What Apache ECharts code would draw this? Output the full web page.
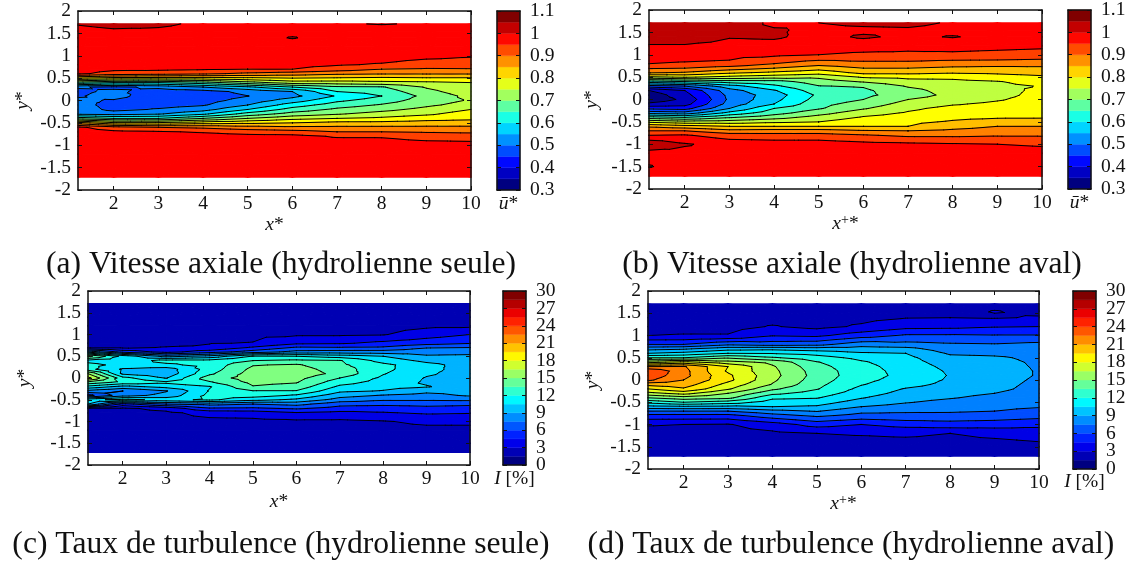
<!DOCTYPE html>
<html><head><meta charset="utf-8">
<style>html,body{margin:0;padding:0;background:#fff}#c{width:1133px;height:563px}</style>
<script src="https://cdn.jsdelivr.net/npm/echarts@6/dist/echarts.min.js"></script>
</head><body><div id="c"></div>
<script>
// Measurement stations along the wake, and transverse stations (top to bottom)
const xStations = [1.2, 2, 3, 4, 5, 6, 7, 8, 9, 10];
const yStations = [1.71, 1.55, 1.4, 1.2, 1, 0.8, 0.7, 0.6, 0.5, 0.4, 0.3, 0.2, 0.1, 0, -0.1, -0.2, -0.3, -0.4, -0.5, -0.6, -0.7, -0.8, -1, -1.2, -1.5, -1.71];
const xTicks = [2, 3, 4, 5, 6, 7, 8, 9, 10];
const uLevels = [0.3, 0.35, 0.4, 0.45, 0.5, 0.55, 0.6, 0.65, 0.7, 0.75, 0.8, 0.85, 0.9, 0.95, 1, 1.05, 1.1];
const iLevels = [0, 1.5, 3, 4.5, 6, 7.5, 9, 10.5, 12, 13.5, 15, 16.5, 18, 19.5, 21, 22.5, 24, 25.5, 27, 28.5, 30];
const uBarTicks = [0.3, 0.4, 0.5, 0.6, 0.7, 0.8, 0.9, 1, 1.1];
const iBarTicksEven = [0, 6, 12, 18, 24, 30];
const iBarTicksOdd = [3, 9, 15, 21, 27];

// (a) axial velocity, turbine alone: one list per x station
const uA12 = [1.002,.99,.98,.98,.98,.98,.97,.96,.80,.63,.455,.44,.445,.46,.47,.48,.49,.63,.82,.96,.97,.98,.98,.98,.98,.98];
const uA2 = [1.01,.995,.985,.98,.98,.97,.96,.93,.78,.60,.44,.46,.47,.445,.43,.435,.48,.60,.76,.92,.96,.98,.98,.98,.98,.98];
const uA3 = [1.005,.995,.985,.98,.98,.97,.96,.92,.78,.60,.46,.43,.415,.415,.43,.455,.495,.60,.76,.90,.955,.975,.98,.98,.98,.98];
const uA4 = [.995,.99,.985,.98,.98,.97,.955,.91,.78,.63,.50,.43,.42,.43,.445,.48,.54,.65,.78,.89,.945,.97,.98,.98,.98,.98];
const uA5 = [.995,.99,.985,.98,.975,.965,.95,.89,.79,.68,.54,.465,.449,.47,.50,.55,.62,.70,.79,.87,.93,.965,.98,.98,.98,.98];
const uA6 = [.998,.99,1.002,.98,.975,.965,.95,.875,.80,.725,.60,.50,.485,.525,.575,.62,.67,.735,.80,.86,.92,.965,.98,.98,.98,.98];
const uA7 = [.998,.99,.985,.98,.975,.955,.925,.86,.795,.725,.64,.60,.555,.59,.625,.66,.695,.75,.815,.86,.90,.945,.98,.98,.98,.98];
const uA8 = [1.001,.99,.985,.98,.975,.945,.90,.855,.79,.735,.645,.62,.60,.625,.655,.685,.72,.76,.815,.86,.90,.945,.975,.98,.98,.98];
const uA9 = [.998,.99,.985,.98,.965,.925,.895,.855,.795,.74,.705,.685,.665,.675,.69,.715,.74,.78,.82,.86,.895,.93,.97,.98,.98,.98];
const uA10 = [.998,.99,.985,.975,.955,.925,.897,.855,.795,.75,.74,.73,.715,.705,.72,.75,.775,.79,.82,.86,.89,.93,.965,.98,.98,.98];

// (b) axial velocity, downstream turbine
const uB12 = [1.03,1.03,1.03,.995,.97,.95,.905,.855,.74,.58,.43,.30,.27,.27,.31,.39,.48,.62,.74,.84,.90,.95,1.04,.98,1.003,.97];
const uB2 = [1.03,1.03,1.03,.995,.97,.945,.90,.845,.755,.60,.45,.35,.33,.31,.33,.38,.47,.60,.72,.82,.90,.955,1.005,.985,.98,.97];
const uB3 = [1.03,1.015,1.003,.985,.965,.94,.875,.81,.735,.625,.53,.48,.465,.46,.47,.50,.565,.645,.725,.80,.865,.925,.98,.985,.985,.975];
const uB4 = [.99,1.005,1.006,.985,.96,.90,.85,.79,.72,.63,.59,.545,.525,.535,.55,.60,.63,.68,.74,.80,.87,.92,.975,.985,.985,.975];
const uB5 = [1.0,.99,.985,.975,.95,.87,.82,.77,.71,.675,.648,.63,.61,.62,.635,.645,.68,.72,.75,.80,.87,.92,.975,.985,.985,.975];
const uB6 = [1.01,.99,1.006,.975,.94,.885,.85,.815,.755,.705,.655,.64,.638,.65,.67,.695,.73,.755,.78,.80,.855,.905,.965,.985,.985,.975];
const uB7 = [1.012,.993,.99,.965,.94,.885,.85,.815,.76,.735,.705,.685,.675,.70,.72,.74,.755,.77,.79,.80,.85,.89,.96,.985,.985,.975];
const uB8 = [.995,.985,1.003,.97,.94,.875,.84,.805,.76,.74,.725,.72,.715,.725,.745,.765,.775,.79,.805,.83,.86,.89,.955,.985,.985,.975];
const uB9 = [.995,.985,.985,.965,.935,.875,.835,.81,.775,.748,.742,.735,.735,.745,.76,.77,.785,.795,.82,.85,.87,.895,.95,.985,.985,.975];
const uB10 = [.995,.985,.985,.96,.93,.87,.84,.82,.79,.765,.752,.76,.765,.77,.775,.78,.79,.795,.825,.85,.87,.895,.94,.98,.985,.975];

// (c) turbulence rate, turbine alone
const iC12 = [1,1,1,1,1,1,1.2,7,14,10,11,11,15,17,13,10,7,4,10,9,1.2,1,1,1,1,1];
const iC2 = [1,1,1,1,1,1,1.2,4,10,9.5,10,8.8,8.7,11,11.5,8.5,6,6.9,11,4,1.2,1,1,1,1,1];
const iC3 = [1,1,1,1,1,1,1.6,2.5,7,11,10.2,8.2,8,8.9,10.8,9.5,7.4,8,10,6,2,1.2,1,1,1,1];
const iC4 = [1,1,1,1,1,1.45,1.7,3.8,8,11,11,11.2,11.7,12.8,11.8,10.4,10.6,10.9,10.8,6.5,4.3,2,1.1,1,1,1];
const iC5 = [1,1,1,1,1.2,1.55,3.2,5.2,10.6,12,13.4,13.9,14.2,14.2,13.9,13.4,11.9,11.2,9.5,6,4.2,2.2,1.1,1,1,1];
const iC6 = [1,1,1,1.1,1.3,2.7,4.7,6.5,10.5,12.3,13.7,14.2,14.5,14,13.6,12.9,11.9,10.3,8.7,6.5,4.7,2.9,1.2,1,1,1];
const iC7 = [1,1,1,1,1.3,2.8,4.6,6.7,9.8,12.1,12.3,12.7,13,12,11.1,10.2,9.3,8.1,6.9,5,3.9,2.6,1.2,1,1,1];
const iC8 = [1,1,1,1,1.4,3.4,4.7,6.7,9,9.9,10.9,10.9,10.6,10.2,9.9,9.5,8.9,7.4,6.2,4.9,3.6,2.9,1.4,1,1,1];
const iC9 = [1,1,1,1.2,2.3,3.9,5.9,6.9,7.7,8.6,9.5,9.4,9.2,8.9,8.8,9.1,7.9,7,6.2,5,4,3.2,1.8,1.1,1,1];
const iC10 = [1,1,1,1.2,3,4.4,6,7,7.8,8.1,8.3,8.4,8.4,8.4,8.3,8.2,8,7.7,6.3,4.8,3.9,3.1,1.8,1.1,1,1];

// (d) turbulence rate, downstream turbine
const iD12 = [1,1,1,1,1.5,4.5,7,9,12,16,21,24,23.5,22.8,20,18,16,13.5,11,8.5,6,4,1.6,1,1,.9];
const iD2 = [1,1,1,1,1.6,4.5,7.3,9.5,12,17,21.2,21.5,21.5,21,20.3,19.3,17,14.3,12,8.7,6,4,1.5,1,1,.9];
const iD3 = [1,1,1,1,1.6,5.7,8.4,10.5,13.3,15.6,18,17.8,18.3,18.4,17.5,16.7,15,13.9,11.3,8.6,6,4,1.4,1,1,.9];
const iD4 = [1,1,1,1.6,2.9,5.3,8.6,10.4,12.2,14.6,15.2,15.4,15.5,15.3,14.9,13.8,12.4,10.8,9.8,9,7,5.4,2.3,1.2,1,.9];
const iD5 = [1,1,1,1.1,2.7,5.5,8.2,10,11.1,12.1,12.5,12.8,12.9,12.7,12.4,12.1,11.3,10.6,9.7,8.8,7.6,6.3,3.6,1.5,1,.9];
const iD6 = [1,1,1.1,1.7,3.8,6.9,8.1,9.2,10.1,10.7,11,11.1,11.1,10.9,10.6,10.1,9.7,9.1,8.3,7.5,6.4,5.5,3,1.6,1,.9];
const iD7 = [1,1,1.45,2.5,4.7,6.5,8,9,9.4,9.6,9.8,10,10.1,9.9,9.5,8.9,8.5,8,7.6,7,6.2,5.6,3.6,1.7,1,.9];
const iD8 = [1,1,1.5,2.6,4.7,6.2,6.7,7.3,7.9,8.3,8.6,8.8,8.9,8.8,8.6,8.3,7.9,7.6,7.1,6.6,6.2,5.5,3.9,1.5,1,.9];
const iD9 = [1,1.55,1.4,2.9,4.6,6.1,6.6,7.2,7.7,7.9,8,8.1,8.1,8,7.9,7.8,7.5,7.1,6.7,6.3,6,5.3,3.8,1.8,1,.9];
const iD10 = [1,1.2,1.6,3,4.6,6.4,6.7,7,7.2,7.3,7.35,7.4,7.4,7.3,7.2,7.1,6.9,6.7,6.4,6.1,5.6,5,3.5,2,1.2,.9];

const FONT = 'Liberation Serif';
const SIZE = 19.5;
const CAP = 31.6;

function jet(t) {
  const seg = (p, q, a, b) => a + (b - a) * (t - p) / (q - p);
  let r, g, b;
  if (t < .125) { r = 0; g = 0; b = seg(0, .125, .5, 1); }
  else if (t < .375) { r = 0; g = seg(.125, .375, 0, 1); b = 1; }
  else if (t < .625) { r = seg(.375, .625, 0, 1); g = 1; b = seg(.375, .625, 1, 0); }
  else if (t < .875) { r = 1; g = seg(.625, .875, 1, 0); b = 0; }
  else { r = seg(.875, 1, 1, .5); g = 0; b = 0; }
  return 'rgb(' + Math.round(r * 255) + ',' + Math.round(g * 255) + ',' + Math.round(b * 255) + ')';
}

const rich = {
  i: { fontFamily: FONT, fontStyle: 'italic', fontSize: SIZE, color: '#111' },
  n: { fontFamily: FONT, fontSize: SIZE, color: '#111' },
  s: { fontFamily: FONT, fontSize: 14, color: '#111', verticalAlign: 'top', lineHeight: 20 }
};

const panels = [
  { cols: [uA12,uA2,uA3,uA4,uA5,uA6,uA7,uA8,uA9,uA10], levels: uLevels, plot: [78,11,393,179], bar: [497,11,23,179],
    xName: '{i|x}{n|*}', barName: '{i|ū}{n|*}', barInt: .1, barTicks: [uBarTicks], xGap: 24, yGap: 45, barGap: 4, cap: '(a) Vitesse axiale (hydrolienne seule)', capX: 276, capY: 244 },
  { cols: [uB12,uB2,uB3,uB4,uB5,uB6,uB7,uB8,uB9,uB10], levels: uLevels, plot: [649,10,393,179], bar: [1068,10,23,179],
    xName: '{i|x}{s|+}{n|*}', barName: '{i|ū}{n|*}', barInt: .1, barTicks: [uBarTicks], xGap: 22, yGap: 47, barGap: 4, cap: '(b) Vitesse axiale (hydrolienne aval)', capX: 847, capY: 244 },
  { cols: [iC12,iC2,iC3,iC4,iC5,iC6,iC7,iC8,iC9,iC10], levels: iLevels, plot: [88,291,382,174], bar: [503,291,23,174],
    xName: '{i|x}{n|*}', barName: '{i|I}{n| [%]}', barInt: 3, barTicks: [iBarTicksEven, iBarTicksOdd], xGap: 27, yGap: 53, barGap: 4, cap: '(c) Taux de turbulence (hydrolienne seule)', capX: 276, capY: 524 },
  { cols: [iD12,iD2,iD3,iD4,iD5,iD6,iD7,iD8,iD9,iD10], levels: iLevels, plot: [648,291,391,178], bar: [1073,291,23,178],
    xName: '{i|x}{s|+}{n|*}', barName: '{i|I}{n| [%]}', barInt: 3, barTicks: [iBarTicksEven, iBarTicksOdd], xGap: 24, yGap: 45, barGap: 3, cap: '(d) Taux de turbulence (hydrolienne aval)', capX: 846, capY: 524 }
];

function clipPoly(poly, level, above) {
  const out = [];
  for (let k = 0; k < poly.length; k++) {
    const A = poly[k], B = poly[(k + 1) % poly.length];
    const ia = above ? A[2] >= level : A[2] <= level;
    const ib = above ? B[2] >= level : B[2] <= level;
    if (ia) out.push(A);
    if (ia !== ib) {
      const t = (level - A[2]) / (B[2] - A[2]);
      out.push([A[0] + (B[0] - A[0]) * t, A[1] + (B[1] - A[1]) * t, level]);
    }
  }
  return out;
}
function cellTriangles(p, i, j) {
  const c = p.cols, x0 = xStations[i], x1 = xStations[i + 1], y0 = yStations[j], y1 = yStations[j + 1];
  const a = [x0, y0, c[i][j]], b = [x1, y0, c[i + 1][j]], d = [x1, y1, c[i + 1][j + 1]], e = [x0, y1, c[i][j + 1]];
  const m = [(x0 + x1) / 2, (y0 + y1) / 2, (a[2] + b[2] + d[2] + e[2]) / 4];
  return [[a, b, m], [b, d, m], [d, e, m], [e, a, m]];
}
function fillItem(p) {
  return function (params, api) {
    const i = api.value(2), j = api.value(3), children = [];
    const L = p.levels, n = L.length - 1;
    cellTriangles(p, i, j).forEach(tri => {
      const lo = Math.min(tri[0][2], tri[1][2], tri[2][2]), hi = Math.max(tri[0][2], tri[1][2], tri[2][2]);
      for (let b = 0; b <= n; b++) {
        const bLo = b === 0 ? -Infinity : L[b - 1], bHi = L[b];
        if (hi < bLo || lo > bHi) continue;
        let poly = tri;
        if (b > 0) poly = clipPoly(poly, bLo, true);
        if (poly.length) poly = clipPoly(poly, bHi, false);
        if (poly.length < 3) continue;
        const col = jet(b / n);
        children.push({ type: 'polygon', silent: true,
          shape: { points: poly.map(q => api.coord([q[0], q[1]])) },
          style: { fill: col, stroke: col, lineWidth: 1.3, lineJoin: 'round' } });
      }
    });
    return { type: 'group', children: children };
  };
}
function lineItem(p) {
  return function (params, api) {
    const i = api.value(2), j = api.value(3), children = [];
    cellTriangles(p, i, j).forEach(tri => {
      p.levels.forEach(l0 => {
        const l = l0 + 1e-7, pts = [];
        for (let k = 0; k < 3; k++) {
          const A = tri[k], B = tri[(k + 1) % 3];
          if ((A[2] - l) * (B[2] - l) < 0) {
            const t = (l - A[2]) / (B[2] - A[2]);
            pts.push(api.coord([A[0] + (B[0] - A[0]) * t, A[1] + (B[1] - A[1]) * t]));
          }
        }
        if (pts.length === 2) children.push({ type: 'line', silent: true,
          shape: { x1: pts[0][0], y1: pts[0][1], x2: pts[1][0], y2: pts[1][1] },
          style: { stroke: '#000', lineWidth: 1, lineCap: 'round' } });
      });
    });
    return { type: 'group', children: children };
  };
}

const grid = [], xAxis = [], yAxis = [], series = [], title = [];
const lineOpt = { show: true, onZero: false, lineStyle: { color: '#111', width: 1.5 } };
const tickOpt = { show: true, inside: true, length: 4, lineStyle: { color: '#111', width: 1 } };
const labelOpt = { fontFamily: FONT, fontSize: SIZE, color: '#111', lineHeight: 15 };

panels.forEach((p, idx) => {
  const gp = grid.length;
  grid.push({ left: p.plot[0], top: p.plot[1], width: p.plot[2], height: p.plot[3] });
  const xB = xAxis.length, yL = yAxis.length;
  const xBase = { type: 'value', gridIndex: gp, min: 1.2, max: 10, z: 10, splitLine: { show: false }, axisLine: lineOpt,
    axisTick: Object.assign({}, tickOpt, { customValues: xTicks }) };
  xAxis.push(Object.assign({}, xBase, { position: 'bottom',
    axisLabel: Object.assign({}, labelOpt, { margin: 6, customValues: xTicks }),
    name: p.xName, nameLocation: 'middle', nameGap: p.xGap, nameTextStyle: { rich: rich } }));
  xAxis.push(Object.assign({}, xBase, { position: 'top', axisLabel: { show: false } }));
  const yBase = { type: 'value', gridIndex: gp, min: -2, max: 2, interval: .5, z: 10, splitLine: { show: false }, axisLine: lineOpt, axisTick: tickOpt };
  yAxis.push(Object.assign({}, yBase, { position: 'left',
    axisLabel: Object.assign({}, labelOpt, { margin: 7 }),
    name: '{i|y}{n|*}', nameLocation: 'middle', nameGap: p.yGap, nameRotate: 90, nameTextStyle: { rich: rich } }));
  yAxis.push(Object.assign({}, yBase, { position: 'right', axisLabel: { show: false } }));

  const cells = [];
  for (let i = 0; i < xStations.length - 1; i++)
    for (let j = 0; j < yStations.length - 1; j++)
      cells.push([xStations[i], yStations[j], i, j]);
  series.push({ type: 'custom', xAxisIndex: xB, yAxisIndex: yL, coordinateSystem: 'cartesian2d', z: 2, silent: true, animation: false,
    renderItem: fillItem(p), encode: { x: 0, y: 1 }, data: cells });
  series.push({ type: 'custom', xAxisIndex: xB, yAxisIndex: yL, coordinateSystem: 'cartesian2d', z: 3, silent: true, animation: false,
    renderItem: lineItem(p), encode: { x: 0, y: 1 }, data: cells });

  // colour bar
  const gb = grid.length;
  grid.push({ left: p.bar[0], top: p.bar[1], width: p.bar[2], height: p.bar[3] });
  const bx = xAxis.length, by = yAxis.length;
  const L = p.levels, m = L.length - 1;
  const bxBase = { type: 'value', gridIndex: gb, min: 0, max: 1, z: 10, splitLine: { show: false }, axisLine: lineOpt, axisTick: { show: false }, axisLabel: { show: false } };
  xAxis.push(Object.assign({}, bxBase, { position: 'bottom', name: p.barName, nameLocation: 'middle', nameGap: p.barGap, nameTextStyle: { rich: rich } }));
  xAxis.push(Object.assign({}, bxBase, { position: 'top' }));
  const byBase = { type: 'value', gridIndex: gb, min: L[0], max: L[m], interval: p.barInt, z: 10, splitLine: { show: false }, axisLine: lineOpt, axisTick: tickOpt };
  yAxis.push(Object.assign({}, byBase, { position: 'right', axisLabel: Object.assign({}, labelOpt, { margin: 10, customValues: p.barTicks[0] }) }));
  yAxis.push(Object.assign({}, byBase, { position: 'left', axisLabel: { show: false } }));
  if (p.barTicks[1]) {
    // odd tick labels sit on their own axis so the library keeps every label of the dense scale
    yAxis.push(Object.assign({}, byBase, { position: 'right', axisLine: { show: false }, axisTick: { show: false },
      axisLabel: Object.assign({}, labelOpt, { margin: 10, customValues: p.barTicks[1] }) }));
  }
  const bands = [];
  for (let b = 0; b < m; b++) bands.push([0, L[b], L[b + 1], b]);
  series.push({ type: 'custom', xAxisIndex: bx, yAxisIndex: by, coordinateSystem: 'cartesian2d', z: 2, silent: true, animation: false,
    encode: { x: 0, y: [1, 2] }, data: bands,
    renderItem: function (params, api) {
      const a = api.coord([0, api.value(2)]), z = api.coord([1, api.value(1)]);
      const col = jet(api.value(3) / (m - 1));
      return { type: 'rect', shape: { x: a[0], y: a[1], width: z[0] - a[0], height: z[1] - a[1] }, style: { fill: col, stroke: col, lineWidth: .4 } };
    } });

  title.push({ text: p.cap, left: p.capX, top: p.capY, textAlign: 'center',
    textStyle: { fontFamily: FONT, fontSize: CAP, fontWeight: 'normal', color: '#111' } });
});

const chart = echarts.init(document.getElementById('c'));
chart.setOption({ animation: false, backgroundColor: '#fff', title: title, grid: grid, xAxis: xAxis, yAxis: yAxis, series: series, tooltip: { show: false } });
</script></body></html>
